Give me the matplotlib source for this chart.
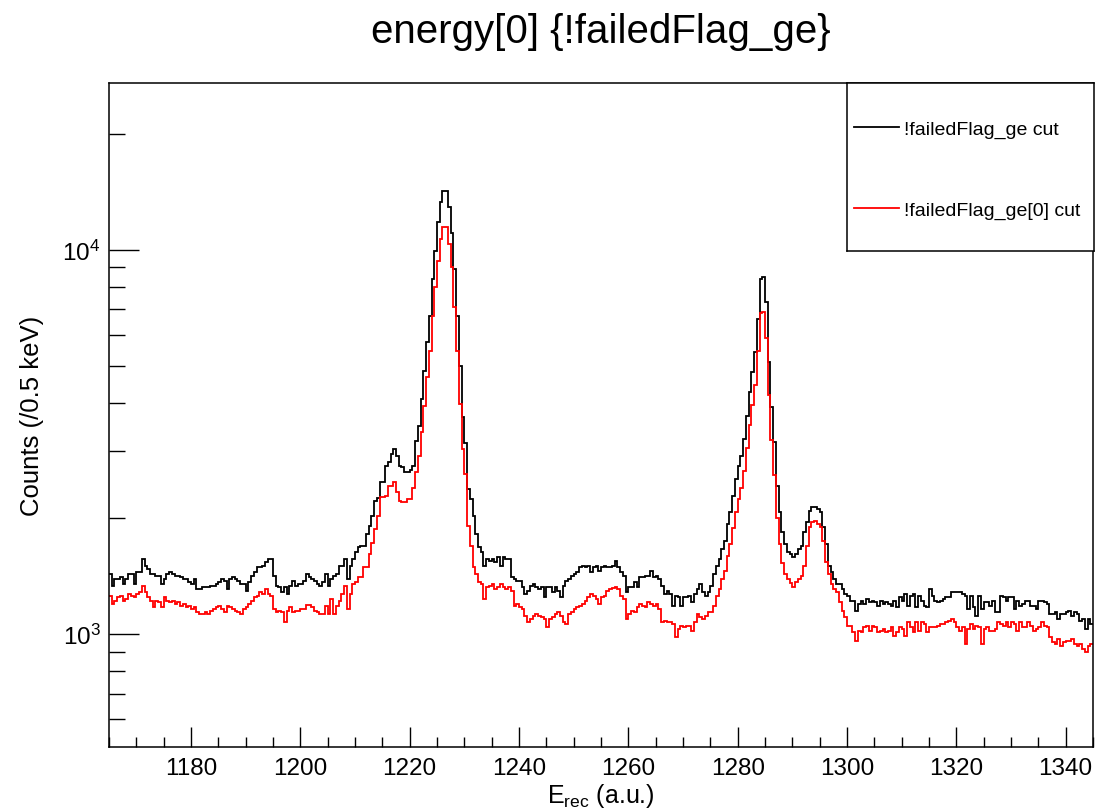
import numpy as np
import matplotlib
matplotlib.use("Agg")
import matplotlib.pyplot as plt
from matplotlib.lines import Line2D
from matplotlib.ticker import MultipleLocator, LogLocator, NullFormatter, FuncFormatter

plt.rcParams['font.family'] = ['Liberation Sans', 'DejaVu Sans']
plt.rcParams['mathtext.fontset'] = 'custom'
plt.rcParams['mathtext.rm'] = 'Liberation Sans'
plt.rcParams['mathtext.it'] = 'Liberation Sans:italic'

# ---------------- data ----------------
x_min = 1165.0
x_max = 1345.0
bin_width = 0.5

title_text = "energy[0] {!failedFlag_ge}"
label_black = "!failedFlag_ge cut"
label_red = "!failedFlag_ge[0] cut"

black_counts = [
    1433, 1336, 1390, 1390, 1404, 1349, 1390, 1433, 1433, 1349,
    1447, 1447, 1567, 1506, 1476, 1433, 1433, 1418, 1418, 1349,
    1390, 1433, 1447, 1433, 1418, 1418, 1404, 1390, 1390, 1363,
    1349, 1390, 1310, 1310, 1323, 1323, 1323, 1336, 1336, 1349,
    1363, 1390, 1376, 1310, 1390, 1404, 1390, 1376, 1349, 1349,
    1297, 1363, 1418, 1447, 1492, 1492, 1506, 1536, 1567, 1567,
    1418, 1336, 1323, 1285, 1323, 1271, 1336, 1376, 1336, 1349,
    1349, 1376, 1433, 1404, 1390, 1376, 1349, 1336, 1363, 1433,
    1336, 1390, 1418, 1433, 1506, 1506, 1567, 1390, 1506, 1567,
    1632, 1680, 1698, 1698, 1820, 1914, 2032, 2223, 2260, 2483,
    2483, 2742, 2800, 2950, 3030, 2913, 2742, 2716, 2636, 2636,
    2680, 2742, 3185, 3485, 4095, 4850, 5745, 6740, 8400, 9950,
    11800, 13300, 14260, 14260, 12900, 11100, 8900, 6740, 5000, 3680,
    3150, 2390, 2245, 2032, 1820, 1680, 1632, 1506, 1567, 1551,
    1567, 1536, 1583, 1506, 1583, 1567, 1567, 1404, 1390, 1376,
    1376, 1323, 1271, 1297, 1336, 1349, 1323, 1310, 1323, 1247,
    1323, 1323, 1285, 1323, 1297, 1247, 1336, 1376, 1390, 1418,
    1433, 1447, 1492, 1506, 1492, 1506, 1447, 1492, 1506, 1462,
    1492, 1506,
    1492, 1492, 1506, 1551, 1492, 1447, 1418, 1285, 1323, 1323,
    1363, 1323, 1404, 1404, 1418, 1418, 1462, 1404, 1418, 1390,
    1336, 1271, 1297, 1271, 1186, 1259, 1247, 1186, 1247, 1247,
    1259, 1211, 1271, 1310, 1349, 1285, 1259, 1285, 1336, 1433,
    1506, 1567, 1663, 1745, 1932, 2074, 2291, 2530, 2742, 2913,
    3220, 3700, 4260, 4800, 5420, 6600, 8400, 8500,
    7300, 5100, 3890, 3155, 2432, 2074, 1841, 1714, 1632, 1615,
    1583, 1615, 1663, 1698, 1841, 1953, 2093, 2140, 2140, 2116,
    2074, 1895, 1714, 1506, 1447, 1390, 1349, 1349, 1310, 1271,
    1259, 1222, 1222, 1150, 1198, 1222, 1198, 1235, 1211, 1222,
    1211, 1186, 1222, 1198, 1211, 1198, 1186, 1222, 1174, 1247,
    1222, 1271, 1186, 1259, 1271, 1174, 1259, 1222, 1186, 1174,
    1310, 1259,
    1222, 1211, 1222, 1235, 1247, 1247, 1285, 1285, 1285, 1285,
    1271, 1259, 1163, 1259, 1174, 1116, 1259, 1163, 1211, 1211,
    1186, 1222, 1139, 1139, 1259, 1247, 1222, 1247, 1247, 1163,
    1222, 1186, 1198, 1222, 1222, 1186, 1186, 1163, 1222, 1222,
    1211, 1198, 1127, 1127, 1139, 1094, 1127, 1127, 1139, 1150,
    1116, 1139, 1127, 1083, 1094, 1031, 1094, 1062,
]

red_counts = [
    1259, 1198, 1222, 1247, 1259, 1222, 1235, 1271, 1259, 1247,
    1271, 1285, 1336, 1285, 1247, 1222, 1174, 1222, 1211, 1174,
    1247, 1222, 1211, 1222, 1198, 1211, 1186, 1198, 1174, 1186,
    1163, 1174, 1139, 1127, 1127, 1139, 1127, 1150, 1163, 1174,
    1186, 1163, 1139, 1186, 1174, 1163, 1150, 1139, 1127, 1163,
    1174, 1198, 1222, 1247, 1259, 1285, 1271, 1310, 1271, 1259,
    1163, 1139, 1150, 1139, 1072, 1150, 1174, 1139, 1150, 1150,
    1163, 1163, 1190, 1190, 1174, 1150, 1139, 1127, 1127, 1186,
    1127, 1235, 1127, 1186, 1222, 1271, 1336, 1163, 1271, 1349,
    1363, 1404, 1404, 1492, 1492, 1615, 1727, 1877, 2032, 2269,
    2269, 2291, 2430, 2430, 2483, 2341, 2223, 2202, 2202, 2245,
    2245, 2406, 2636, 2900, 3350, 3935, 4660, 5465, 6740, 8000,
    9380, 10700, 11460, 11460, 10370, 9020, 7100, 5470, 3970, 3030,
    2610, 1914, 1698, 1492, 1433, 1363, 1349, 1235, 1323, 1336,
    1349, 1310, 1323, 1349, 1323, 1310, 1323, 1297, 1186, 1198,
    1174, 1163, 1116, 1072, 1094, 1116, 1127, 1116, 1105, 1094,
    1041, 1094, 1105, 1127, 1139, 1116, 1072, 1062, 1127, 1139,
    1163, 1174, 1186, 1198, 1222, 1247, 1271, 1259, 1235, 1198,
    1247, 1259,
    1297, 1310, 1315, 1323, 1310, 1259, 1235, 1094, 1127, 1150,
    1139, 1174, 1198, 1186, 1174, 1211, 1198, 1186, 1198, 1163,
    1072, 1083, 1072, 1072, 1062, 980, 1031, 1051, 1041, 1051,
    1051, 1020, 1072, 1127, 1105, 1094, 1116, 1139, 1139, 1186,
    1259, 1310, 1390, 1462, 1600, 1720, 1890, 2080, 2250, 2400,
    2650, 3050, 3500, 3950, 4450, 5450, 6850, 6900,
    5900, 4200, 3200, 2600, 2000, 1720, 1530, 1430, 1390, 1360,
    1323, 1363, 1390, 1418, 1506, 1698, 1895, 1953, 1972, 1932,
    1895, 1745, 1536, 1433, 1349, 1310, 1285, 1211, 1150, 1105,
    1051, 1051, 1010, 961, 1020, 1010, 1041, 1051, 1020, 1051,
    1041, 1010, 1020, 1031, 1010, 1020, 1041, 990, 1010, 1041,
    1031, 990, 1072, 1041, 1010, 1072, 1020, 1072, 1062, 1010,
    1041, 1041,
    1041, 1051, 1062, 1062, 1072, 1083, 1094, 1072, 1041, 1020,
    1041, 942, 1031, 1062, 1031, 1051, 1041, 942, 1031, 1041,
    1020, 1020, 1031, 1072, 1062, 1051, 1072, 1041, 1072, 1062,
    1020, 1072, 1041, 1041, 1072, 1051, 1020, 1031, 1041, 1072,
    1051, 1041, 980, 951, 942, 970, 933, 951, 961, 961,
    970, 942, 933, 942, 914, 897, 933, 942,
]

y_min = 508
y_max = 27200

# ---------------- figure ----------------
W, H = 1109, 812
fig = plt.figure(figsize=(W / 100, H / 100), dpi=100)
fig.patch.set_facecolor('white')

ax_l, ax_r, ax_t, ax_b = 109, 1093, 84, 748
ax = fig.add_axes([ax_l / W, 1 - ax_b / H, (ax_r - ax_l) / W, (ax_b - ax_t) / H])

edges = x_min + bin_width * np.arange(len(black_counts) + 1)
ax.stairs(black_counts, edges, color='black', lw=1.3, baseline=None)
ax.stairs(red_counts, edges, color='red', lw=1.3, baseline=None)

ax.set_yscale('log')
ax.set_xlim(x_min, x_max)
ax.set_ylim(y_min, y_max)

ax.xaxis.set_major_locator(MultipleLocator(20))
ax.xaxis.set_minor_locator(MultipleLocator(5))
ax.yaxis.set_major_locator(LogLocator(base=10, numticks=10))
ax.yaxis.set_minor_locator(LogLocator(base=10, subs=np.arange(2, 10), numticks=20))
ax.yaxis.set_minor_formatter(NullFormatter())
ax.yaxis.set_major_formatter(FuncFormatter(lambda v, p: r'$\mathregular{10^{%d}}$' % int(round(np.log10(v)))))

ax.tick_params(axis='both', which='both', direction='in', top=False, right=False,
               width=1.0, colors='black')
ax.tick_params(axis='x', which='major', length=14.4, labelsize=17.5, pad=7)
ax.tick_params(axis='x', which='minor', length=7.2)
ax.tick_params(axis='y', which='major', length=21.6, labelsize=17.5, pad=6)
ax.tick_params(axis='y', which='minor', length=11.5)

for s in ax.spines.values():
    s.set_linewidth(1.1)

ax.set_xlabel(r'$\mathregular{E_{rec}}$ (a.u.)', fontsize=18, labelpad=2)
ax.set_ylabel('Counts (/0.5 keV)', fontsize=18.5, labelpad=13)

fig.text((ax_l + ax_r) / 2 / W, 1 - 32 / H, title_text, ha='center', va='center', fontsize=29)

# legend box
lg_l, lg_r, lg_t, lg_b = 847, 1094, 84, 252
lax = fig.add_axes([lg_l / W, 1 - lg_b / H, (lg_r - lg_l) / W, (lg_b - lg_t) / H])
lax.set_xticks([])
lax.set_yticks([])
lax.patch.set_facecolor('white')
for s in lax.spines.values():
    s.set_linewidth(1.1)
handles = [Line2D([], [], color='black', lw=1.3), Line2D([], [], color='red', lw=1.3)]
lax.legend(handles, [label_black, label_red], loc='center left', bbox_to_anchor=(0.03, 0.482),
           frameon=False, fontsize=14, handlelength=2.3, handletextpad=0.25,
           labelspacing=3.25, borderpad=0, borderaxespad=0)

fig.savefig('out.png', dpi=100)
